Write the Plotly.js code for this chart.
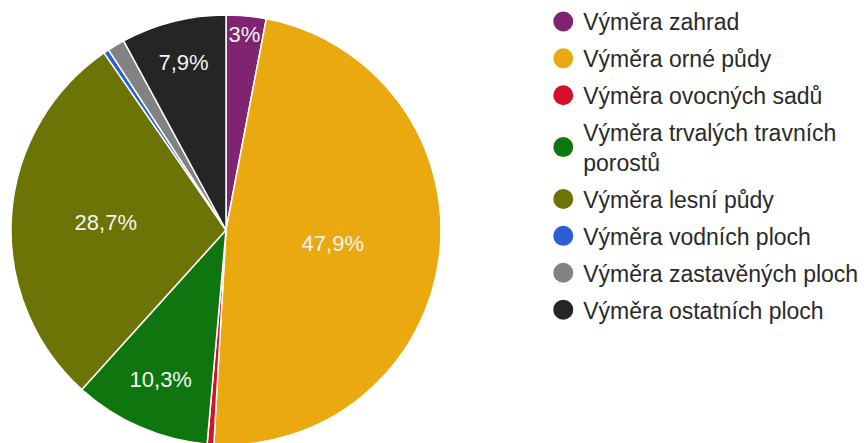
<!DOCTYPE html>
<html>
<head>
<meta charset="utf-8">
<script src="https://cdn.plot.ly/plotly-3.0.1.min.js"></script>
<style>
html, body { margin: 0; padding: 0; overflow: hidden; background: #fff; }
#chart { width: 864px; height: 460px; }
</style>
</head>
<body>
<div id="chart"></div>
<script>
const categories = [
  'Výměra zahrad',
  'Výměra orné půdy',
  'Výměra ovocných sadů',
  'Výměra trvalých travních<br>porostů',
  'Výměra lesní půdy',
  'Výměra vodních ploch',
  'Výměra zastavěných ploch',
  'Výměra ostatních ploch'
];
const shares = [3.0, 47.9, 0.5, 10.3, 28.7, 0.4, 1.3, 7.9];
const colors = ['#7e2471', '#eaa90e', '#d5102a', '#0f760f', '#6b7405', '#2a5fd6', '#828282', '#252525'];

const FONT = 'Liberation Sans, Arial, sans-serif';

const pie = {
  type: 'pie',
  labels: categories,
  values: shares,
  sort: false,
  direction: 'clockwise',
  rotation: 0,
  showlegend: false,
  marker: { colors: colors, line: { color: '#ffffff', width: 1.5 } },
  textposition: 'inside',
  insidetextorientation: 'horizontal',
  texttemplate: shares.map(v => v < 2 ? '' : '%{percent}'),
  insidetextfont: { family: FONT, size: 22, color: '#f4f4f4' },
  hoverinfo: 'label+percent',
  domain: { x: [0, 430 / 853], y: [0, 1] }
};

const legendTraces = categories.map((c, i) => ({
  type: 'scatter',
  mode: 'markers',
  x: [null],
  y: [null],
  name: c,
  legendgroup: 'g' + i,
  marker: { symbol: 'circle', size: 16, color: colors[i], line: { color: colors[i], width: 4 } },
  showlegend: true,
  hoverinfo: 'skip'
}));

const layout = {
  width: 864,
  height: 460,
  margin: { l: 11, r: 0, t: 15, b: 15 },
  paper_bgcolor: '#ffffff',
  plot_bgcolor: '#ffffff',
  separators: ', ',
  font: { family: FONT, color: '#2a2a2a' },
  uniformtext: { mode: 'show', minsize: 22 },
  xaxis: { visible: false },
  yaxis: { visible: false },
  showlegend: true,
  legend: {
    x: 0.624,
    xanchor: 'left',
    y: 1.035,
    yanchor: 'top',
    maxheight: 1000,
    font: { family: FONT, size: 23, color: '#2a2a2a' },
    tracegroupgap: 4,
    itemsizing: 'trace',
    bgcolor: 'rgba(0,0,0,0)'
  }
};

Plotly.newPlot('chart', [pie].concat(legendTraces), layout, { displayModeBar: false, staticPlot: true });
</script>
</body>
</html>
